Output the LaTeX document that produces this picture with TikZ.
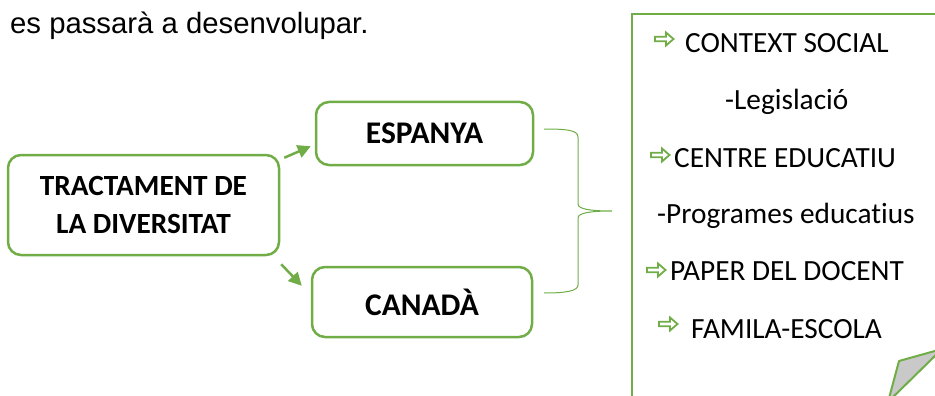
\documentclass[tikz,border=0pt]{standalone}
\usepackage{fontspec}
\setmainfont{Carlito}[Ligatures=NoCommon]
\newfontfamily\arialf{Liberation Sans}
\usetikzlibrary{arrows.meta}
\definecolor{gr}{HTML}{70AD47}
\definecolor{foldgray}{HTML}{C9C9C9}
\begin{document}
\begin{tikzpicture}[x=1pt,y=-1pt,
  box/.style={draw=gr, line width=2.5pt, rounded corners=13pt, font=\fontsize{29.3}{38}\selectfont\bfseries, align=center, inner sep=0pt},
  bigbox/.style={box, font=\fontsize{31.5}{38}\selectfont\bfseries},
  lbl/.style={anchor=base west, inner sep=0pt, font=\fontsize{29.3}{35}\selectfont},
  conn/.style={draw=gr, line width=2.5pt, -{Triangle[length=13pt,width=13pt]}},
  brace/.style={draw=gr, line width=1pt},
  harrow/.pic={\draw[gr, line width=1.8pt, fill=white, line join=miter] (0,-2.3) -- (11,-2.3) -- (11,-6.5) -- (18.5,0) -- (11,6.5) -- (11,2.3) -- (0,2.3) -- cycle;}
]
\useasboundingbox (0,0) rectangle (935,396);

\node[anchor=base west, inner sep=0pt, font=\arialf\fontsize{29.3}{34}\selectfont] (intro) at (10,34) {es passarà a desenvolupar.};

\node[box, minimum width=271pt, minimum height=100pt] (trac) at (143.5,205) {TRACTAMENT DE\\LA DIVERSITAT};
\node[bigbox, minimum width=217pt, minimum height=63pt] (esp) at (424.5,133.5) {ESPANYA};
\node[bigbox, minimum width=220pt, minimum height=70pt] (can) at (422,302) {CANADÀ};

\draw[conn] ([shift={(4,4)}]trac.north east) -- ([shift={(-4,-20)}]esp.south west);
\draw[conn] ([shift={(1,8)}]trac.south east) -- ([shift={(-9,20)}]can.north west);

\draw[brace] (544,129) .. controls (566,129) and (578,130) .. (578,137) -- (578,204)
  .. controls (578,209) and (590,211) .. (612,211)
  .. controls (590,211) and (578,213) .. (578,218) -- (578,285)
  .. controls (578,291) and (566,293) .. (544,293);

\draw[gr, line width=2pt] (632,400) -- (632,14) -- (940,14);

\draw[gr, line width=2pt, fill=foldgray, line join=round] (899,361) -- (942,349) -- (888,402) -- cycle;

\pic at (655,39) {harrow};
\node[lbl] (t1) at (685,53) {CONTEXT SOCIAL};
\node[lbl] (t2) at (725,110) {-Legislació};
\pic at (651,155) {harrow};
\node[lbl] (t3) at (674,167) {CENTRE EDUCATIU};
\node[lbl] (t4) at (657,223) {-Programes educatius};
\pic at (647,270) {harrow};
\node[lbl] (t5) at (670,280) {PAPER DEL DOCENT};
\pic at (659,324) {harrow};
\node[lbl] (t6) at (691,338) {FAMILA-ESCOLA};
\end{tikzpicture}
\end{document}
